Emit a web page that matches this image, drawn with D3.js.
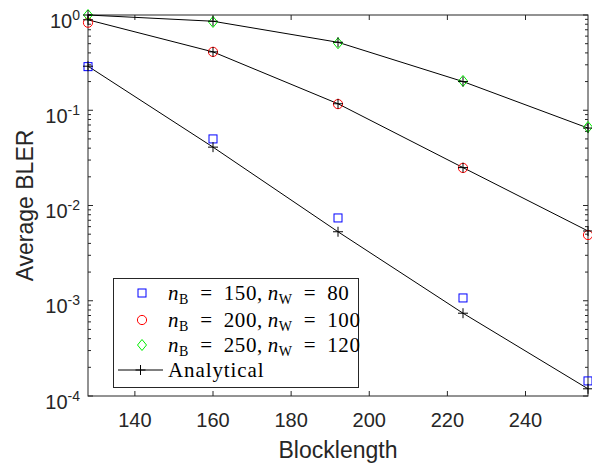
<!DOCTYPE html>
<html>
<head>
<meta charset="utf-8">
<script src="https://cdn.jsdelivr.net/npm/d3@7"></script>
<style>
  body { margin: 0; background: #fff; }
  svg { display: block; }
  .tick-label { font-family: "Liberation Sans", Arial, sans-serif; fill: #262626; }
</style>
</head>
<body>
<svg width="592" height="468"></svg>
<script>
// block lengths
var blocklength = [128, 160, 192, 224, 256];

// simulated BLER
var simB150 = [0.287, 0.050, 0.0074, 0.00107, 0.000144];
var simB200 = [0.83, 0.41, 0.116, 0.0248, 0.0049];
var simB250 = [1.0, 0.845, 0.505, 0.203, 0.0667];

// analytical BLER
var anaB150 = [0.29, 0.041, 0.0053, 0.00074, 0.000119];
var anaB200 = [0.89, 0.41, 0.117, 0.0250, 0.0054];
var anaB250 = [1.0, 0.86, 0.517, 0.200, 0.065];

var xTicks = [140, 160, 180, 200, 220, 240];
var yTicks = [1e-4, 1e-3, 1e-2, 1e-1, 1];
var yTickExp = ["-4", "-3", "-2", "-1", "0"];

var legendNames = [
  {nb: "150", nw: "80"},
  {nb: "200", nw: "100"},
  {nb: "250", nw: "120"}
];

var svg = d3.select("svg");
var ink = "#262626";
var pLeft = 88, pRight = 588, pTop = 15, pBottom = 396;

var x = d3.scaleLinear().domain([128, 256]).range([pLeft, pRight]);
var y = d3.scaleLog().domain([1e-4, 1]).range([pBottom, pTop]);

// minor log ticks
var minor = [];
for (var e = -4; e < 0; e++) {
  for (var m = 2; m <= 9; m++) minor.push(m * Math.pow(10, e));
}

var axes = svg.append("g").attr("stroke", ink).attr("stroke-width", 1).attr("fill", "none");

axes.append("rect")
  .attr("x", pLeft).attr("y", pTop)
  .attr("width", pRight - pLeft).attr("height", pBottom - pTop);

xTicks.forEach(function(t) {
  axes.append("line").attr("x1", x(t)).attr("x2", x(t)).attr("y1", pBottom).attr("y2", pBottom - 5);
  axes.append("line").attr("x1", x(t)).attr("x2", x(t)).attr("y1", pTop).attr("y2", pTop + 5);
});
yTicks.forEach(function(t) {
  axes.append("line").attr("x1", pLeft).attr("x2", pLeft + 5).attr("y1", y(t)).attr("y2", y(t));
  axes.append("line").attr("x1", pRight).attr("x2", pRight - 5).attr("y1", y(t)).attr("y2", y(t));
});
minor.forEach(function(t) {
  axes.append("line").attr("x1", pLeft).attr("x2", pLeft + 3).attr("y1", y(t)).attr("y2", y(t));
  axes.append("line").attr("x1", pRight).attr("x2", pRight - 3).attr("y1", y(t)).attr("y2", y(t));
});

// x tick labels
svg.selectAll(".xl").data(xTicks).enter().append("text")
  .attr("class", "tick-label")
  .attr("x", function(d) { return x(d); })
  .attr("y", 427)
  .attr("text-anchor", "middle")
  .style("font-size", "20px")
  .text(function(d) { return d; });

// y tick labels 10^k
yTicks.forEach(function(t, i) {
  var g = svg.append("text")
    .attr("class", "tick-label")
    .attr("x", 80)
    .attr("y", y(t) + 12.5)
    .attr("text-anchor", "end")
    .style("font-size", "20px");
  g.append("tspan").text("10");
  g.append("tspan").attr("dy", -8).style("font-size", "14px").text(yTickExp[i]);
});

// axis titles
svg.append("text")
  .attr("x", (pLeft + pRight) / 2).attr("y", 458)
  .attr("text-anchor", "middle")
  .style("font-family", "Liberation Sans, Arial, sans-serif")
  .style("font-size", "23px").style("fill", ink)
  .text("Blocklength");

svg.append("text")
  .attr("transform", "translate(33," + ((pTop + pBottom) / 2) + ") rotate(-90)")
  .attr("text-anchor", "middle")
  .style("font-family", "Liberation Sans, Arial, sans-serif")
  .style("font-size", "23px").style("fill", ink)
  .text("Average BLER");

// analytical lines
var line = d3.line()
  .x(function(d, i) { return x(blocklength[i]); })
  .y(function(d) { return y(d); });

var plot = svg.append("g");

[anaB150, anaB200, anaB250].forEach(function(s) {
  plot.append("path").datum(s)
    .attr("d", line)
    .attr("fill", "none").attr("stroke", "#000").attr("stroke-width", 1);
});

function plus(g, cx, cy, r) {
  g.append("path")
    .attr("d", "M" + (cx - r) + "," + cy + "H" + (cx + r) + "M" + cx + "," + (cy - r) + "V" + (cy + r))
    .attr("stroke", "#000").attr("stroke-width", 1).attr("fill", "none");
}

function marker(g, type, cx, cy) {
  if (type === "square") {
    g.append("rect").attr("x", cx - 4).attr("y", cy - 4).attr("width", 8).attr("height", 8)
      .attr("fill", "none").attr("stroke", "#0000ff").attr("stroke-width", 1);
  } else if (type === "circle") {
    g.append("circle").attr("cx", cx).attr("cy", cy).attr("r", 4.6)
      .attr("fill", "none").attr("stroke", "#ff0000").attr("stroke-width", 1);
  } else {
    g.append("path")
      .attr("d", "M" + cx + "," + (cy - 5.5) + "L" + (cx + 4.5) + "," + cy + "L" + cx + "," + (cy + 5.5) + "L" + (cx - 4.5) + "," + cy + "Z")
      .attr("fill", "none").attr("stroke", "#00ee00").attr("stroke-width", 1);
  }
}

var sims = [
  {data: simB150, type: "square"},
  {data: simB200, type: "circle"},
  {data: simB250, type: "diamond"}
];

sims.forEach(function(s) {
  s.data.forEach(function(v, i) {
    marker(plot, s.type, x(blocklength[i]), y(v));
  });
});

[anaB150, anaB200, anaB250].forEach(function(s) {
  s.forEach(function(v, i) {
    plus(plot, x(blocklength[i]), y(v), 5);
  });
});

// legend
var lg = svg.append("g");
lg.append("rect")
  .attr("x", 113.5).attr("y", 278.5).attr("width", 245).attr("height", 109)
  .attr("fill", "#fff").attr("stroke", ink).attr("stroke-width", 1);

var rowY = [293, 320, 345, 370];
var lfont = "Liberation Serif, 'DejaVu Serif', serif";

legendNames.forEach(function(d, i) {
  marker(lg, sims[i].type, 142, rowY[i]);
  var t = lg.append("text")
    .attr("x", 168).attr("y", rowY[i] + 7)
    .style("font-family", lfont).style("font-size", "21px").style("fill", "#000")
    .style("letter-spacing", "0.6px");
  t.append("tspan").style("font-style", "italic").text("n");
  t.append("tspan").attr("dy", 4).style("font-size", "14px").text("B");
  t.append("tspan").attr("dy", -4).text("\u2002=\u2002" + d.nb + ",\u2009");
  t.append("tspan").style("font-style", "italic").text("n");
  t.append("tspan").attr("dy", 4).style("font-size", "14px").text("W");
  t.append("tspan").attr("dy", -4).text("\u2002=\u2002" + d.nw);
});

lg.append("line").attr("x1", 118).attr("x2", 163).attr("y1", rowY[3]).attr("y2", rowY[3])
  .attr("stroke", "#000").attr("stroke-width", 1);
plus(lg, 140.5, rowY[3], 5);
lg.append("text")
  .attr("x", 168).attr("y", rowY[3] + 7)
  .style("font-family", lfont).style("font-size", "21px").style("fill", "#000")
  .style("letter-spacing", "0.9px")
  .text("Analytical");
</script>
</body>
</html>
